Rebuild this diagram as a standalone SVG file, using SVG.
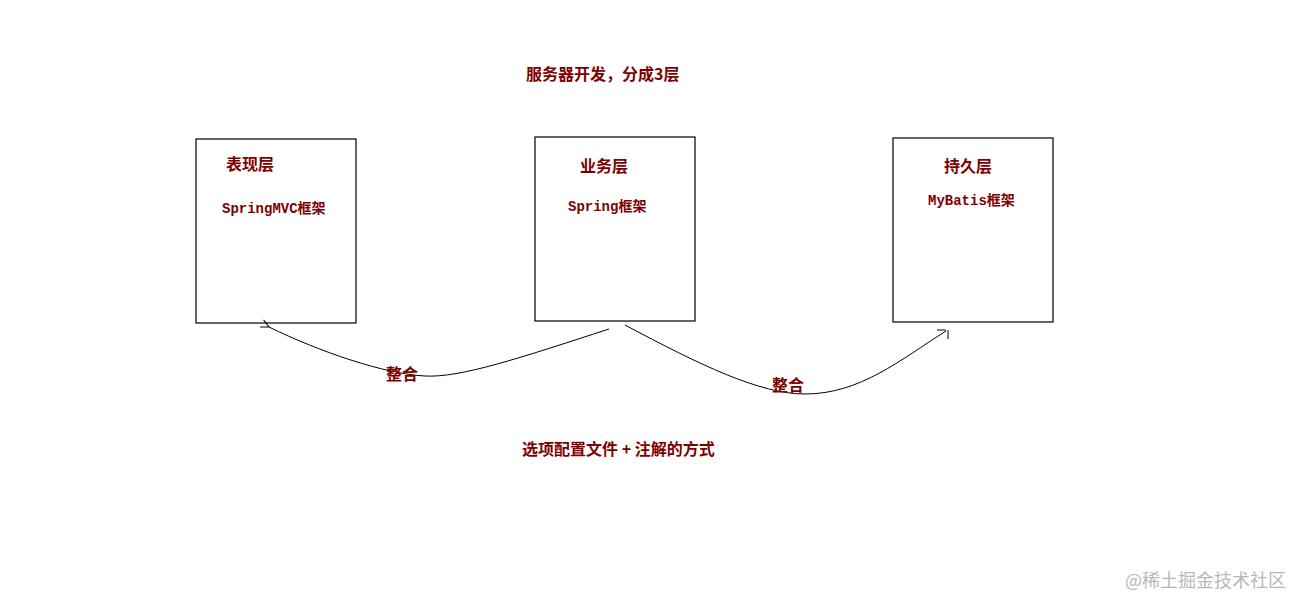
<svg xmlns="http://www.w3.org/2000/svg" width="1304" height="608" viewBox="0 0 1304 608">
<style>
.box{fill:#fff;stroke:#000;stroke-width:1.2}
.t{fill:#800000;font-family:"Noto Sans CJK SC","Liberation Sans",sans-serif;font-weight:bold;font-size:16px}
.m{fill:#800000;font-family:"Liberation Mono","Noto Sans CJK SC",monospace;font-weight:bold;font-size:14px}
.c{fill:none;stroke:#000;stroke-width:1}
</style>
<defs><marker id="a" markerWidth="10" markerHeight="10" refX="1" refY="5" orient="auto" markerUnits="userSpaceOnUse"><path d="M9,1 L1,5 L9,9" fill="none" stroke="#000"/></marker></defs>
<rect width="1304" height="608" fill="#fff"/>
<text class="t" x="526" y="80">服务器开发，分成3层</text>
<g id="n1"><rect class="box" x="196" y="139" width="160" height="184"/><text class="t" x="226" y="170">表现层</text><text class="m" x="222" y="213">SpringMVC框架</text></g>
<g id="n2"><rect class="box" x="535" y="137" width="160" height="184"/><text class="t" x="580" y="172">业务层</text><text class="m" x="568" y="211">Spring框架</text></g>
<g id="n3"><rect class="box" x="893" y="138" width="160" height="184"/><text class="t" x="944" y="172">持久层</text><text class="m" x="928" y="205">MyBatis框架</text></g>
<g id="connectors">
<path class="c" d="M609,329 C520,358 460,378 425,376 C385,374 320,352 269,327" marker-end="url(#a)"/>
<path class="c" d="M625,325 C700,365 760,394 805,394 C860,394 900,360 946,331"/>
<path class="c" d="M937,330 L946,330 M948,330 L948,339"/>
</g>
<text class="t" x="386" y="380">整合</text>
<text class="t" x="772" y="391">整合</text>
<text class="t" x="522" y="455">选项配置文件 + 注解的方式</text>
<text x="1125" y="587" fill="#b8b8b8" font-family="Noto Sans CJK SC,sans-serif" font-size="18">@稀土掘金技术社区</text>
</svg>
